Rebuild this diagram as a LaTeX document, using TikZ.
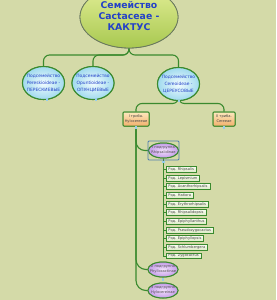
\documentclass[tikz,border=0pt]{standalone}
\usepackage{fontspec}
\newfontfamily\dv{DejaVu Sans}
\usetikzlibrary{shapes.geometric}
\definecolor{bg}{RGB}{212,218,168}
\definecolor{conn}{RGB}{58,138,46}
\definecolor{rootB}{RGB}{105,120,95}
\definecolor{rootT}{RGB}{226,238,150}
\definecolor{rootBt}{RGB}{168,200,80}
\definecolor{blueTxt}{RGB}{35,65,200}
\definecolor{skyIn}{RGB}{242,252,255}
\definecolor{skyOut}{RGB}{160,218,238}
\definecolor{lilacIn}{RGB}{242,224,252}
\definecolor{lilacOut}{RGB}{196,156,232}
\definecolor{orT}{RGB}{253,232,190}
\definecolor{orB}{RGB}{242,176,108}
\definecolor{gT}{RGB}{248,252,240}
\definecolor{gB}{RGB}{220,234,196}
\definecolor{mark}{RGB}{150,205,235}
\definecolor{selframe}{RGB}{80,125,175}
\newcommand\ztext[1]{\makebox[0pt]{\smash{\raisebox{-.25em}{\begin{tabular}{@{}c@{}}#1\end{tabular}}}}}
\tikzset{
  rootnode/.style={ellipse, draw=rootB, line width=0.8pt, top color=rootT, bottom color=rootBt,
    minimum width=98pt, minimum height=62pt, inner sep=0pt,
    font=\dv\bfseries\fontsize{9.3}{11}\selectfont, text=blueTxt},
  fam/.style={ellipse, draw=conn, line width=1.1pt, inner color=skyIn, outer color=skyOut,
    minimum width=42pt, minimum height=33pt, inner sep=0pt,
    font=\dv\fontsize{4.4}{7}\selectfont, text=blueTxt},
  tribe/.style={rectangle, rounded corners=1pt, draw=conn, line width=1pt, top color=orT, bottom color=orB,
    minimum height=14pt, inner sep=1pt, font=\dv\fontsize{3.6}{5}\selectfont, text=black!75, align=center},
  subg/.style={ellipse, draw=conn, line width=1pt, inner color=lilacIn, outer color=lilacOut,
    minimum width=30pt, minimum height=15pt, inner sep=0pt,
    font=\dv\fontsize{3.6}{5}\selectfont, text=black!70},
  genus/.style={rectangle, draw=conn, line width=0.9pt, top color=gT, bottom color=gB,
    minimum height=5.8pt, inner xsep=2.4pt, inner ysep=0pt, anchor=west,
    font=\dv\fontsize{3.6}{4.3}\selectfont, text=black!75},
  marker/.style={rectangle, fill=mark, minimum size=2.2pt, inner sep=0pt},
  selbox/.style={rectangle, draw=selframe, line width=0.8pt, rounded corners=1pt,
    minimum width=31pt, minimum height=19pt, inner sep=0pt},
  link/.style={draw=conn, line width=1.1pt, rounded corners=6pt},
}
\begin{document}
\begin{tikzpicture}[x=1pt,y=-1pt]
\fill[bg] (0,0) rectangle (276,300);
\useasboundingbox (0,0) rectangle (276,300);

% connectors first
\coordinate (bar) at (129,55);
\coordinate (bar2) at (178.5,103.5);
\node[rootnode] (root) at (129,17) {};
\node[fam] (fam1) at (43.5,83) {};
\node[fam] (fam2) at (93,83) {};
\node[fam] (fam3) at (178.5,84) {};
\node[tribe, minimum width=26pt] (tribe1) at (136,119) {};
\node[tribe, minimum width=22pt] (tribe2) at (224,119) {};
\node[subg] (sub1) at (163.5,150.5) {};
\node[subg] (sub2) at (163,269.5) {};
\node[subg] (sub3) at (163,290.5) {};

\path[link] (root.south) -- (bar) -| (fam1.north);
\path[link] (root.south) -- (bar) -| (fam2.north);
\path[link] (root.south) -- (bar) -| (fam3.north);
\path[link] (fam3.south) -- (bar2) -| (tribe1.north);
\path[link] (fam3.south) -- (bar2) -| (tribe2.north);
\path[link, rounded corners=9pt] (tribe1.south) |- (sub1.west);
\path[link, rounded corners=10pt] (tribe1.south) |- (sub2.west);
\path[link, rounded corners=10pt] (tribe1.south) |- (sub3.west);

\foreach \n [count=\k from 0] in {Rhipsalis,Lepismium,Acanthorhipsalis,Hatiora,Erythrorhipsalis,Rhipsalidopsis,Epiphyllanthus,Pseudozygocactus,Epiphyllopsis,Schlumbergera,Zygocactus}{
  \node[genus] (g\k) at (165.5,169.5+8.65*\k) {Род. \n};
  \path[link, line width=0.9pt, rounded corners=0pt] (sub1.south) |- (g\k.west);
}

% nodes again on top with texts
\node[rootnode] at (root) {\ztext{Семейство\\Cactaceae -\\КАКТУС}};
\node[fam] at (fam1) {\ztext{Подсемейство\\Pereskioideae -\\ПЕРЕСКИЕВЫЕ}};
\node[fam] at (fam2) {\ztext{Подсемейство\\Opuntioideae -\\ОПУНЦИЕВЫЕ}};
\node[fam] at (fam3) {\ztext{Подсемейство\\Cereoideae -\\ЦЕРЕУСОВЫЕ}};
\node[tribe, minimum width=26pt] at (tribe1) {I триба.\\Hylocereeae};
\node[tribe, minimum width=22pt] at (tribe2) {II триба.\\Cereeae};
\node[subg] at (sub1) {\ztext{I подгруппа\\Rhipsalidinae}};
\node[subg] at (sub2) {\ztext{2 подгруппа\\Phyllocactinae}};
\node[subg] at (sub3) {\ztext{3 подгруппа\\Hylocereinae}};
\node[selbox] (frame1) at (sub1) {};

\node[marker] (m1) at (47,99.5) {};
\node[marker] (m2) at (96,99.5) {};
\node[marker] (m3) at (179,101) {};
\node[marker] (m4) at (136,127.5) {};
\node[marker] (m5) at (224,127.5) {};
\node[marker] (m6) at (163.5,162) {};
\node[marker] (m7) at (163,279.5) {};
\end{tikzpicture}
\end{document}
